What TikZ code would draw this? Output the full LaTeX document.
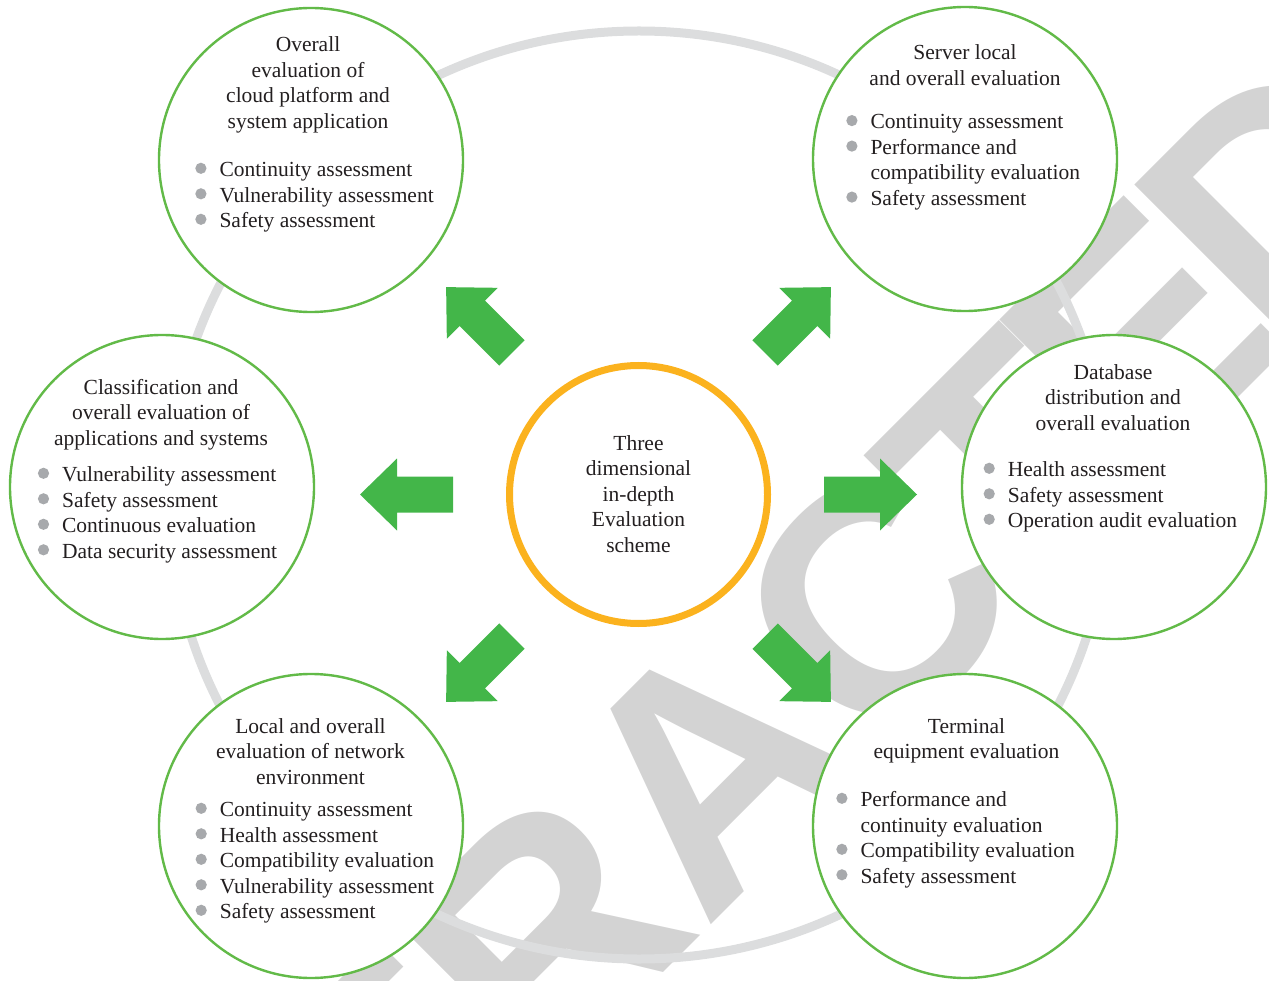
\documentclass[tikz,border=0pt]{standalone}
\usepackage{fontspec}
\setmainfont{Liberation Serif}
\newfontfamily\wmfont{Liberation Sans}

\definecolor{ringgreen}{RGB}{98,186,72}
\definecolor{arrowgreen}{RGB}{67,182,73}
\definecolor{hubgold}{RGB}{251,178,30}
\definecolor{ringgray}{RGB}{220,221,222}
\definecolor{wmgray}{RGB}{211,211,211}
\definecolor{dotgray}{RGB}{167,169,172}
\definecolor{ink}{RGB}{35,31,32}

\newcommand{\bodysize}{\fontsize{21.5pt}{25.5pt}\selectfont}
\newcommand{\dotb}{\tikz[baseline=-8.4pt]\fill[dotgray] (0pt,0pt) circle[radius=5.6pt];}

\tikzset{
  topic/.style={circle, draw=ringgreen, line width=2.4pt, fill=white, minimum size=304pt, inner sep=0pt},
  hub/.style={circle, draw=hubgold, line width=7pt, fill=white, minimum size=258pt, inner sep=0pt},
  heading/.style={anchor=base, inner sep=0pt, text=ink, font=\bodysize},
  items/.style={anchor=base west, inner sep=0pt, text=ink, font=\bodysize},
  watermark/.style={text=wmgray, rotate=45, anchor=base west, inner sep=0pt, font={\wmfont\bfseries\fontsize{325pt}{325pt}\selectfont}},
  fatarrow/.pic={
    \fill[arrowgreen] (-46.5,-18) -- (9.5,-18) -- (9.5,-36) -- (46.5,0)
      -- (9.5,36) -- (9.5,18) -- (-46.5,18) -- cycle;
  }
}

\begin{document}
\begin{tikzpicture}[x=1pt,y=-1pt]

  \useasboundingbox (0,0) rectangle (1269,981);

  % watermark behind everything
  \begin{scope}
    \clip (0,0) rectangle (1269,981);
    \node[watermark] (wm) at (79.5,1556.5) {RETRAC\kern-25pt T\kern-25pt E\kern-25pt D};
  \end{scope}

  \draw[ringgray, line width=9pt] (639,495) ellipse [x radius=470, y radius=464];

  % the six topics round the hub
  \node[topic] (cloud)    at (311,160) {};
  \node[topic] (server)   at (965,159) {};
  \node[topic] (apps)     at (162,487) {};
  \node[topic] (database) at (1114,487) {};
  \node[topic] (network)  at (311,826) {};
  \node[topic] (terminal) at (965,826) {};
  \node[hub]   (hub)      at (638.5,494.5) {};

  % block arrows
  \pic[rotate=135] (nwarrow) at (479,320) {fatarrow};
  \pic[rotate=45]  (nearrow) at (798,320) {fatarrow};
  \pic[rotate=180] (warrow)  at (406.5,494.5) {fatarrow};
  \pic             (earrow)  at (870.5,494.5) {fatarrow};
  \pic[rotate=225] (swarrow) at (479,669) {fatarrow};
  \pic[rotate=315] (searrow) at (798,669) {fatarrow};

  \node[heading] (hubtext) at (638.5,450) {\begin{tabular}[t]{@{}c@{}}Three\\ dimensional\\ in-depth\\ Evaluation\\ scheme\end{tabular}};

  \node[heading] (cloudtitle) at (308,52) {\begin{tabular}[t]{@{}c@{}}Overall\\ evaluation of\\ cloud platform and\\ system application\end{tabular}};
  \node[items] (cloudlist) at (195.1,176.7) {\begin{tabular}[t]{@{}l@{\hspace{13pt}}l@{}}
    \dotb & Continuity assessment\\
    \dotb & Vulnerability assessment\\
    \dotb & Safety assessment\end{tabular}};

  \node[heading] (servertitle) at (965,60) {\begin{tabular}[t]{@{}c@{}}Server local\\ and overall evaluation\end{tabular}};
  \node[items] (serverlist) at (846.1,129) {\begin{tabular}[t]{@{}l@{\hspace{13pt}}l@{}}
    \dotb & Continuity assessment\\
    \dotb & Performance and\\
          & compatibility evaluation\\
    \dotb & Safety assessment\end{tabular}};

  \node[heading] (appstitle) at (161,394.3) {\begin{tabular}[t]{@{}c@{}}Classification and\\ overall evaluation of\\ applications and systems\end{tabular}};
  \node[items] (appslist) at (37.7,481.7) {\begin{tabular}[t]{@{}l@{\hspace{13pt}}l@{}}
    \dotb & Vulnerability assessment\\
    \dotb & Safety assessment\\
    \dotb & Continuous evaluation\\
    \dotb & Data security assessment\end{tabular}};

  \node[heading] (databasetitle) at (1113,379.3) {\begin{tabular}[t]{@{}c@{}}Database\\ distribution and\\ overall evaluation\end{tabular}};
  \node[items] (databaselist) at (983.4,476.7) {\begin{tabular}[t]{@{}l@{\hspace{13pt}}l@{}}
    \dotb & Health assessment\\
    \dotb & Safety assessment\\
    \dotb & Operation audit evaluation\end{tabular}};

  \node[heading] (networktitle) at (310.5,733.3) {\begin{tabular}[t]{@{}c@{}}Local and overall\\ evaluation of network\\ environment\end{tabular}};
  \node[items] (networklist) at (195.4,816.7) {\begin{tabular}[t]{@{}l@{\hspace{13pt}}l@{}}
    \dotb & Continuity assessment\\
    \dotb & Health assessment\\
    \dotb & Compatibility evaluation\\
    \dotb & Vulnerability assessment\\
    \dotb & Safety assessment\end{tabular}};

  \node[heading] (terminaltitle) at (966.5,733.3) {\begin{tabular}[t]{@{}c@{}}Terminal\\ equipment evaluation\end{tabular}};
  \node[items] (terminallist) at (836.1,806.7) {\begin{tabular}[t]{@{}l@{\hspace{13pt}}l@{}}
    \dotb & Performance and\\
          & continuity evaluation\\
    \dotb & Compatibility evaluation\\
    \dotb & Safety assessment\end{tabular}};

\end{tikzpicture}
\end{document}
